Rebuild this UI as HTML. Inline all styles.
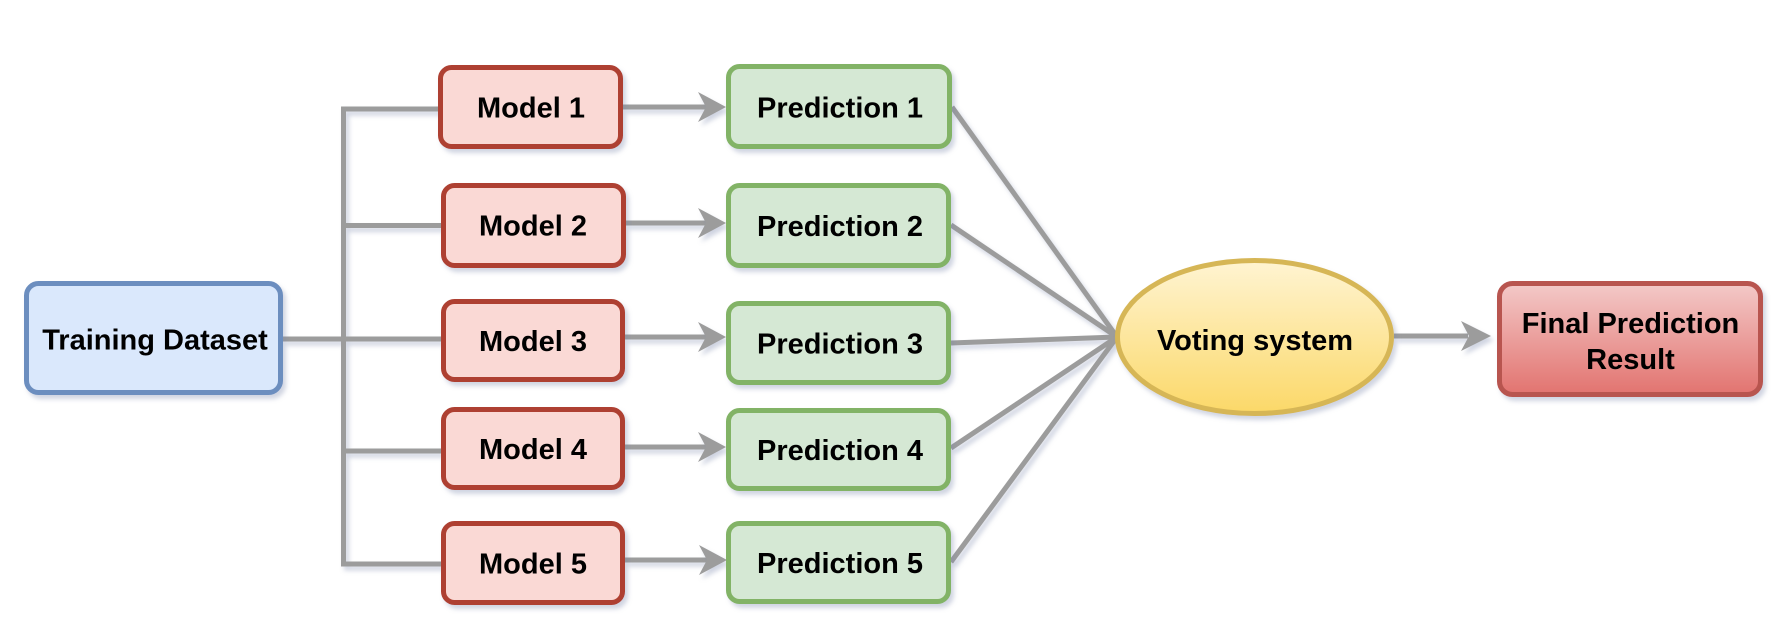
<!DOCTYPE html>
<html>
<head>
<meta charset="utf-8">
<style>
  html,body{margin:0;padding:0;background:#ffffff;}
  svg{display:block;}
  text{font-family:"Liberation Sans",Arial,sans-serif;font-weight:bold;font-size:29px;fill:#000;}
</style>
</head>
<body>
<svg width="1780" height="640" viewBox="0 0 1780 640" xmlns="http://www.w3.org/2000/svg">
  <defs>
    <filter id="sh" x="-10%" y="-10%" width="130%" height="140%">
      <feDropShadow dx="3" dy="4" stdDeviation="2.5" flood-color="#7a84aa" flood-opacity="0.35"/>
    </filter>
    <linearGradient id="gy" x1="0" y1="0" x2="0" y2="1">
      <stop offset="0" stop-color="#fff4d2"/>
      <stop offset="1" stop-color="#fbd868"/>
    </linearGradient>
    <linearGradient id="gr" x1="0" y1="0" x2="0" y2="1">
      <stop offset="0" stop-color="#f3c9c8"/>
      <stop offset="1" stop-color="#e2736f"/>
    </linearGradient>
  </defs>

  <!-- connectors -->
  <g stroke="#9c9c9c" stroke-width="5" fill="none" filter="url(#sh)">
    <!-- trunk -->
    <polyline points="441,109 343.5,109 343.5,564 441,564"/>
    <line x1="283" y1="339" x2="441" y2="339"/>
    <line x1="343.5" y1="225.5" x2="441" y2="225.5"/>
    <line x1="343.5" y1="451" x2="441" y2="451"/>
    <!-- model -> prediction -->
    <line x1="623" y1="107" x2="708" y2="107"/>
    <line x1="626" y1="223" x2="708" y2="223"/>
    <line x1="625" y1="337" x2="708" y2="337"/>
    <line x1="625" y1="447" x2="708" y2="447"/>
    <line x1="625" y1="560" x2="708" y2="560"/>
    <!-- predictions -> voting -->
    <line x1="952" y1="107" x2="1117" y2="337"/>
    <line x1="951" y1="225" x2="1117" y2="337"/>
    <line x1="951" y1="343" x2="1117" y2="337"/>
    <line x1="951" y1="448" x2="1117" y2="337"/>
    <line x1="951" y1="562" x2="1117" y2="337"/>
    <!-- voting -> final -->
    <line x1="1394" y1="336" x2="1468" y2="336"/>
  </g>
  <!-- arrowheads -->
  <g fill="#9c9c9c" filter="url(#sh)">
    <polygon points="726,107 698,92 706,107 698,122"/>
    <polygon points="726,223 698,208 706,223 698,238"/>
    <polygon points="726,337 698,322 706,337 698,352"/>
    <polygon points="726,447 698,432 706,447 698,462"/>
    <polygon points="727,560 699,545 707,560 699,575"/>
    <polygon points="1491,336 1461,321 1469,336 1461,351"/>
  </g>

  <!-- Training Dataset -->
  <rect x="26.5" y="283.5" width="254" height="109" rx="12" fill="#dae8fc" stroke="#6c8ebf" stroke-width="5" filter="url(#sh)"/>
  <text x="155" y="349.5" text-anchor="middle">Training Dataset</text>

  <!-- Models -->
  <g fill="#fad9d5" stroke="#ae4132" stroke-width="5" filter="url(#sh)">
    <rect x="440.5" y="67.5" width="180" height="79" rx="11"/>
    <rect x="443.5" y="185.5" width="180" height="80" rx="11"/>
    <rect x="443.5" y="301.5" width="179" height="78" rx="11"/>
    <rect x="443.5" y="409.5" width="179" height="78" rx="11"/>
    <rect x="443.5" y="523.5" width="179" height="79" rx="11"/>
  </g>
  <text x="531" y="117.5" text-anchor="middle">Model 1</text>
  <text x="533" y="235.5" text-anchor="middle">Model 2</text>
  <text x="533" y="351" text-anchor="middle">Model 3</text>
  <text x="533" y="459" text-anchor="middle">Model 4</text>
  <text x="533" y="573.5" text-anchor="middle">Model 5</text>

  <!-- Predictions -->
  <g fill="#d5e8d4" stroke="#82b366" stroke-width="5" filter="url(#sh)">
    <rect x="728.5" y="66.5" width="221" height="80" rx="11"/>
    <rect x="728.5" y="185.5" width="220" height="80" rx="11"/>
    <rect x="728.5" y="303.5" width="220" height="79" rx="11"/>
    <rect x="728.5" y="410.5" width="220" height="78" rx="11"/>
    <rect x="728.5" y="523.5" width="220" height="78" rx="11"/>
  </g>
  <text x="840" y="117.5" text-anchor="middle">Prediction 1</text>
  <text x="840" y="236" text-anchor="middle">Prediction 2</text>
  <text x="840" y="353.5" text-anchor="middle">Prediction 3</text>
  <text x="840" y="460" text-anchor="middle">Prediction 4</text>
  <text x="840" y="573" text-anchor="middle">Prediction 5</text>

  <!-- Voting system -->
  <ellipse cx="1254.5" cy="337" rx="137" ry="76.5" fill="url(#gy)" stroke="#d6b656" stroke-width="5" filter="url(#sh)"/>
  <text x="1255" y="350" text-anchor="middle">Voting system</text>

  <!-- Final Prediction Result -->
  <rect x="1499.5" y="283.5" width="261" height="111" rx="13" fill="url(#gr)" stroke="#b85450" stroke-width="5" filter="url(#sh)"/>
  <text x="1630.5" y="333" text-anchor="middle">Final Prediction</text>
  <text x="1630.5" y="369" text-anchor="middle">Result</text>
</svg>
</body>
</html>
